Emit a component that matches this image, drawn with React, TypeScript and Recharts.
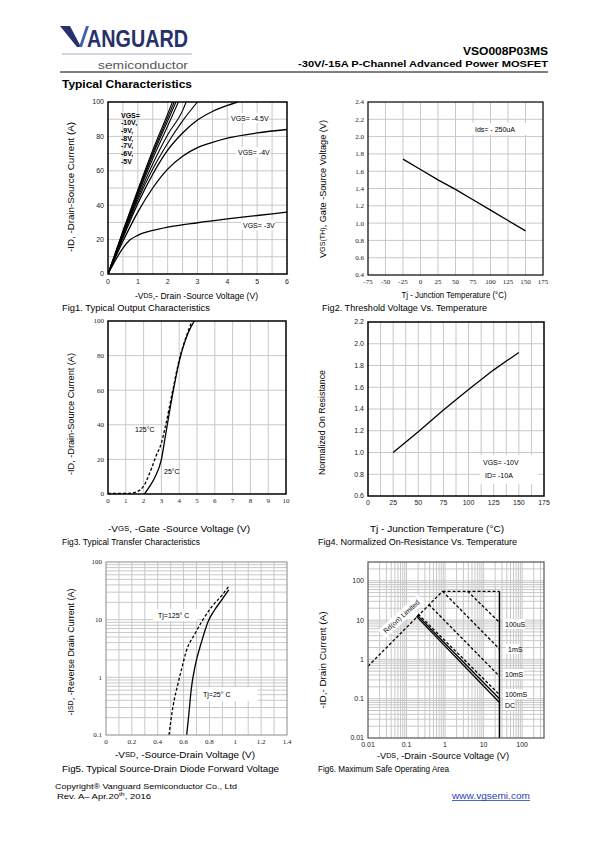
import React from 'react';
import { LineChart, Line, XAxis, YAxis, ReferenceLine } from 'recharts';

const SANS = "'Liberation Sans', Arial, sans-serif";
const SERIF = "'Liberation Serif', 'Times New Roman', serif";

type Pt = { x: number; y: number };

// Fig1 - output characteristics, -ID (A) vs -VDS (V)
const vgs10: Pt[] = [{ x: 0, y: 0 }, { x: 0.5, y: 25 }, { x: 1, y: 49 }, { x: 1.5, y: 72 }, { x: 2, y: 93 }, { x: 2.16, y: 100 }];
const vgs9: Pt[] = [{ x: 0, y: 0 }, { x: 0.5, y: 24.5 }, { x: 1, y: 48 }, { x: 1.5, y: 70.5 }, { x: 2, y: 91 }, { x: 2.22, y: 100 }];
const vgs8: Pt[] = [{ x: 0, y: 0 }, { x: 0.5, y: 24 }, { x: 1, y: 47 }, { x: 1.5, y: 69 }, { x: 2, y: 89 }, { x: 2.28, y: 100 }];
const vgs7: Pt[] = [{ x: 0, y: 0 }, { x: 0.5, y: 23.5 }, { x: 1, y: 46 }, { x: 1.5, y: 67 }, { x: 2, y: 86 }, { x: 2.36, y: 100 }];
const vgs6: Pt[] = [{ x: 0, y: 0 }, { x: 0.5, y: 23 }, { x: 1, y: 44.5 }, { x: 1.5, y: 64 }, { x: 2, y: 81 }, { x: 2.5, y: 95 }, { x: 2.62, y: 100 }];
const vgs5: Pt[] = [{ x: 0, y: 0 }, { x: 0.5, y: 22 }, { x: 1, y: 43 }, { x: 1.5, y: 61 }, { x: 2, y: 76 }, { x: 2.5, y: 89 }, { x: 3, y: 100 }];
const vgs45: Pt[] = [{ x: 0, y: 0 }, { x: 0.5, y: 21 }, { x: 1, y: 41 }, { x: 1.5, y: 58 }, { x: 2, y: 72 }, { x: 2.5, y: 82 }, { x: 3, y: 89.5 }, { x: 3.5, y: 94.5 }, { x: 4, y: 98 }, { x: 4.35, y: 100 }];
const vgs4: Pt[] = [{ x: 0, y: 0 }, { x: 0.5, y: 19 }, { x: 1, y: 36 }, { x: 1.5, y: 50 }, { x: 2, y: 61 }, { x: 2.5, y: 68.5 }, { x: 3, y: 73.5 }, { x: 3.5, y: 76.5 }, { x: 4, y: 79 }, { x: 5, y: 82 }, { x: 6, y: 84 }];
const vgs3: Pt[] = [{ x: 0, y: 0 }, { x: 0.25, y: 8 }, { x: 0.5, y: 15 }, { x: 0.75, y: 20 }, { x: 1, y: 22.5 }, { x: 1.5, y: 25.3 }, { x: 2, y: 27.2 }, { x: 3, y: 29.8 }, { x: 4, y: 32 }, { x: 5, y: 34 }, { x: 6, y: 36 }];
const fig1XTicks = [0, 1, 2, 3, 4, 5, 6];
const fig1YTicks = [0, 20, 40, 60, 80, 100];

// Fig2 - threshold voltage vs Tj
const vth: Pt[] = [{ x: -25, y: 1.74 }, { x: 0, y: 1.62 }, { x: 25, y: 1.5 }, { x: 50, y: 1.39 }, { x: 75, y: 1.27 }, { x: 100, y: 1.15 }, { x: 125, y: 1.03 }, { x: 150, y: 0.91 }];
const fig2XTicks = [-75, -50, -25, 0, 25, 50, 75, 100, 125, 150, 175];
const fig2YTicks = [0.4, 0.6, 0.8, 1.0, 1.2, 1.4, 1.6, 1.8, 2.0, 2.2, 2.4];

// Fig3 - transfer characteristics
const transfer125: Pt[] = [{ x: 0, y: 0.3 }, { x: 1.2, y: 0.4 }, { x: 1.6, y: 1.2 }, { x: 2, y: 4.5 }, { x: 2.45, y: 15 }, { x: 2.7, y: 22 }, { x: 3, y: 29.5 }, { x: 3.2, y: 38 }, { x: 3.6, y: 58 }, { x: 4, y: 77.5 }, { x: 4.5, y: 94 }, { x: 4.72, y: 100 }];
const transfer25: Pt[] = [{ x: 2.05, y: 0 }, { x: 2.35, y: 4.5 }, { x: 2.65, y: 10 }, { x: 3, y: 20 }, { x: 3.2, y: 32 }, { x: 3.6, y: 56 }, { x: 4, y: 76.5 }, { x: 4.5, y: 93 }, { x: 4.85, y: 100 }];
const fig3XTicks = [0, 1, 2, 3, 4, 5, 6, 7, 8, 9, 10];
const fig3YTicks = [0, 20, 40, 60, 80, 100];

// Fig4 - normalized RDS(on) vs Tj
const rdsNorm: Pt[] = [{ x: 25, y: 1.0 }, { x: 50, y: 1.19 }, { x: 75, y: 1.39 }, { x: 100, y: 1.58 }, { x: 125, y: 1.76 }, { x: 150, y: 1.92 }];
const fig4XTicks = [0, 25, 50, 75, 100, 125, 150, 175];
const fig4YTicks = [0.6, 0.8, 1.0, 1.2, 1.4, 1.6, 1.8, 2.0, 2.2];

// Fig5 - body diode forward voltage
const diode125: Pt[] = [{ x: 0.487, y: 0.1 }, { x: 0.52, y: 0.33 }, { x: 0.555, y: 0.75 }, { x: 0.585, y: 1.4 }, { x: 0.62, y: 2.8 }, { x: 0.69, y: 5.8 }, { x: 0.75, y: 10 }, { x: 0.82, y: 17 }, { x: 0.9, y: 27 }, { x: 0.95, y: 38 }];
const diode25: Pt[] = [{ x: 0.624, y: 0.1 }, { x: 0.64, y: 0.22 }, { x: 0.66, y: 0.64 }, { x: 0.69, y: 1.6 }, { x: 0.74, y: 4.2 }, { x: 0.79, y: 9.3 }, { x: 0.84, y: 14.7 }, { x: 0.895, y: 22 }, { x: 0.95, y: 33 }];
const fig5XTicks = [0, 0.2, 0.4, 0.6, 0.8, 1, 1.2, 1.4];
const fig5YTicks = [0.1, 1, 10, 100];

// Fig6 - safe operating area
const soaRds: Pt[] = [{ x: 0.01, y: 0.67 }, { x: 0.86, y: 54 }];
const soaTop: Pt[] = [{ x: 0.86, y: 54 }, { x: 25.8, y: 54 }];
const soaVmax: Pt[] = [{ x: 25.8, y: 54 }, { x: 25.8, y: 0.01 }];
const soa100us: Pt[] = [{ x: 3.86, y: 54 }, { x: 25.8, y: 8.7 }];
const soa1ms: Pt[] = [{ x: 0.86, y: 54 }, { x: 25.8, y: 1.84 }];
const soa10ms: Pt[] = [{ x: 0.38, y: 24.7 }, { x: 25.8, y: 0.373 }];
const soa100ms: Pt[] = [{ x: 0.2, y: 14.2 }, { x: 25.8, y: 0.127 }];
const soa1s: Pt[] = [{ x: 0.19, y: 13.3 }, { x: 25.8, y: 0.1 }];
const soaDC: Pt[] = [{ x: 0.18, y: 12.4 }, { x: 25.8, y: 0.08 }];
const fig6Ticks = [0.01, 0.1, 1, 10, 100];

function range(a: number, b: number, step: number) {
  const out: number[] = [];
  for (let v = a; v <= b + 1e-9; v += step) out.push(+v.toFixed(4));
  return out;
}

function logGrid(lo: number, hi: number) {
  const out: number[] = [];
  for (let d = lo; d < hi; d *= 10) {
    for (let k = 1; k <= 9; k++) {
      const v = +(d * k).toPrecision(3);
      if (v > lo * 1.001 && v < hi * 0.999) out.push(v);
    }
  }
  return out;
}

type Series = { data: Pt[]; dash?: string; width?: number; curve?: 'monotone' | 'linear' };

interface PlotProps {
  box: [number, number, number, number];
  xDomain: [number, number];
  yDomain: [number, number];
  xTicks: number[];
  yTicks: number[];
  xGrid: number[];
  yGrid: number[];
  xLog?: boolean;
  yLog?: boolean;
  yFmt?: (v: number) => string;
  tickFont?: string;
  xGap?: number;
  series: Series[];
}

const Plot = (p: PlotProps) => {
  const [x0, y0, x1, y1] = p.box;
  const L = 34, T = 6, R = 10, B = 18;
  const w = x1 - x0 + L + R;
  const h = y1 - y0 + T + B;
  const tick = { fontSize: 7, fill: '#222', fontFamily: p.tickFont ?? SANS };
  return (
    <div style={{ position: 'absolute', left: x0 - L, top: y0 - T, width: w, height: h }}>
      <LineChart width={w} height={h} margin={{ top: T, right: R, left: 0, bottom: 0 }}>
        <XAxis type="number" dataKey="x" domain={p.xDomain} ticks={p.xTicks} scale={p.xLog ? 'log' : 'linear'} allowDataOverflow
          height={B} axisLine={false} tickLine={false} tickSize={p.xGap ?? 3} tickMargin={1} tick={tick} interval={0} />
        <YAxis type="number" domain={p.yDomain} ticks={p.yTicks} scale={p.yLog ? 'log' : 'linear'} allowDataOverflow
          width={L} axisLine={false} tickLine={false} tickSize={2} tickMargin={2} tick={tick} interval={0}
          tickFormatter={p.yFmt} />
        {p.xGrid.map((v) => <ReferenceLine key={'gx' + v} x={v} stroke="#c8c8c8" strokeWidth={1} />)}
        {p.yGrid.map((v) => <ReferenceLine key={'gy' + v} y={v} stroke="#c8c8c8" strokeWidth={1} />)}
        {p.series.map((s, i) => (
          <Line key={i} data={s.data} dataKey="y" type={s.curve ?? 'monotone'} stroke="#000"
            strokeWidth={s.width ?? 1.3} strokeDasharray={s.dash} dot={false} isAnimationActive={false} />
        ))}
      </LineChart>
    </div>
  );
};

const Box = ({ x, y, w, h }: { x: number; y: number; w: number; h: number }) => (
  <rect x={x} y={y} width={w} height={h} fill="#fff" />
);

const Txt = (props: { x: number; y: number; s?: number; bold?: boolean; anchor?: 'start' | 'middle' | 'end'; len?: number; fill?: string; family?: string; rot?: number; children: React.ReactNode }) => {
  const { x, y, s = 7, bold, anchor = 'start', len, fill = '#000', family = SANS, rot, children } = props;
  return (
    <text x={x} y={y} fontSize={s} fontWeight={bold ? 'bold' : 'normal'} textAnchor={anchor} dominantBaseline="central"
      fill={fill} fontFamily={family} textLength={len} lengthAdjust={len ? 'spacingAndGlyphs' : undefined}
      transform={rot ? `rotate(${rot} ${x} ${y})` : undefined}>
      {children}
    </text>
  );
};

const sub = (t: string) => <tspan fontSize="0.78em">{t}</tspan>;

const fix1 = (v: number) => v.toFixed(1);

export default function App() {
  return (
    <div style={{ position: 'absolute', left: 0, top: 0, width: 595, height: 842, background: '#fff' }}>
      <Plot box={[108, 102, 287, 274]} xDomain={[0, 6]} yDomain={[0, 100]} xTicks={fig1XTicks} yTicks={fig1YTicks}
        xGrid={range(0.5, 5.5, 0.5)} yGrid={range(10, 90, 10)} xGap={4}
        series={[
          { data: vgs10, width: 1.1 }, { data: vgs9, width: 1.1 }, { data: vgs8, width: 1.1 },
          { data: vgs7, width: 1.1 }, { data: vgs6, width: 1.1 }, { data: vgs5, width: 1.1 },
          { data: vgs45 }, { data: vgs4 }, { data: vgs3 },
        ]} />
      <Plot box={[368, 102, 543, 275]} xDomain={[-75, 175]} yDomain={[0.4, 2.4]} xTicks={fig2XTicks} yTicks={fig2YTicks}
        xGrid={range(-50, 150, 25)} yGrid={range(0.6, 2.2, 0.2)} tickFont={SERIF} yFmt={fix1}
        series={[{ data: vth, curve: 'linear' }]} />
      <Plot box={[108, 321, 286, 494]} xDomain={[0, 10]} yDomain={[0, 100]} xTicks={fig3XTicks} yTicks={fig3YTicks}
        xGrid={range(1, 9, 1)} yGrid={range(20, 80, 20)} tickFont={SERIF}
        series={[{ data: transfer125, dash: '3 2' }, { data: transfer25 }]} />
      <Plot box={[368, 322, 544, 496]} xDomain={[0, 175]} yDomain={[0.6, 2.2]} xTicks={fig4XTicks} yTicks={fig4YTicks}
        xGrid={range(12.5, 162.5, 12.5)} yGrid={range(0.8, 2.0, 0.2)} yFmt={fix1}
        series={[{ data: rdsNorm, curve: 'linear' }]} />
      <Plot box={[106, 562, 287, 735]} xDomain={[0, 1.4]} yDomain={[0.1, 100]} xTicks={fig5XTicks} yTicks={fig5YTicks}
        xGrid={range(0.1, 1.3, 0.1)} yGrid={logGrid(0.1, 100)} tickFont={SERIF} yLog
        series={[{ data: diode125, dash: '3 2' }, { data: diode25 }]} />
      <Plot box={[368, 562, 544, 738]} xDomain={[0.01, 370]} yDomain={[0.01, 300]} xTicks={fig6Ticks} yTicks={fig6Ticks}
        xGrid={logGrid(0.01, 370)} yGrid={logGrid(0.01, 300)} xLog yLog
        series={[
          { data: soaRds, dash: '3 2', curve: 'linear' }, { data: soaTop, dash: '3 2', curve: 'linear' },
          { data: soaVmax, curve: 'linear', width: 1.5 }, { data: soa100us, dash: '3 2', curve: 'linear' },
          { data: soa1ms, dash: '3 2', curve: 'linear' }, { data: soa10ms, dash: '3 2', curve: 'linear' },
          { data: soa100ms, dash: '3 2', curve: 'linear' }, { data: soa1s, curve: 'linear' },
          { data: soaDC, curve: 'linear' },
        ]} />

      <svg width={595} height={842} style={{ position: 'absolute', left: 0, top: 0, pointerEvents: 'none' }}>
        {/* header */}
        <polygon points="60,26 70,26 81,47 77,47" fill="#26306c" />
        <polygon points="79,47 86,26 89,26 82,47" fill="#3f63ad" />
        <text x={87} y={47} fontSize={24} fontWeight="bold" fill="#26306c" fontFamily={SANS} textLength={101} lengthAdjust="spacingAndGlyphs">ANGUARD</text>
        <line x1={62} y1={54} x2={192} y2={54} stroke="#8a93b8" strokeWidth={0.8} />
        <text x={98} y={69} fontSize={11} fill="#555" fontFamily={SANS} textLength={90} lengthAdjust="spacingAndGlyphs">semiconductor</text>
        <Txt x={548} y={51} s={11.5} bold anchor="end" len={85}>VSO008P03MS</Txt>
        <Txt x={548} y={63.5} s={9} bold anchor="end" len={250}>-30V/-15A  P-Channel  Advanced  Power  MOSFET</Txt>
        <line x1={60} y1={72} x2={548} y2={72} stroke="#000" strokeWidth={1} />
        <Txt x={62} y={84} s={11} bold len={130}>Typical Characteristics</Txt>

        {/* plot frames */}
        <rect x={108} y={102} width={179} height={172} fill="none" stroke="#000" strokeWidth={1.5} />
        <rect x={368} y={102} width={175} height={173} fill="none" stroke="#000" strokeWidth={1.2} />
        <rect x={108} y={321} width={178} height={173} fill="none" stroke="#000" strokeWidth={1.5} />
        <rect x={368} y={322} width={176} height={174} fill="none" stroke="#000" strokeWidth={1.5} />
        <rect x={106} y={562} width={181} height={173} fill="none" stroke="#8a8a8a" strokeWidth={1} />
        <rect x={368} y={562} width={176} height={176} fill="none" stroke="#555" strokeWidth={1.2} />

        {/* Fig1 */}
        <text fontSize={7} fontWeight="bold" fontFamily={SANS}>
          {['VGS=', '-10V,', '-9V,', '-8V,', '-7V,', '-6V,', '-5V'].map((t, i) => (
            <tspan key={t} x={121} y={117.5 + i * 7.7}>{t}</tspan>
          ))}
        </text>
        <Box x={229} y={113} w={40} h={10} />
        <Txt x={231} y={118}>VGS= -4.5V</Txt>
        <Box x={236} y={147} w={34} h={10} />
        <Txt x={238} y={152}>VGS= -4V</Txt>
        <Box x={241} y={220} w={34} h={10} />
        <Txt x={243} y={225}>VGS= -3V</Txt>
        <Txt x={196.5} y={295} s={9.5} anchor="middle" len={123}>-V{sub('DS')},- Drain -Source Voltage (V)</Txt>
        <Txt x={70} y={187} s={9.5} anchor="middle" len={130} rot={-90}>-ID, -Drain-Source Current (A)</Txt>
        <Txt x={62} y={308} s={8.5} len={148}>Fig1. Typical Output Characteristics</Txt>

        {/* Fig2 */}
        <Box x={468} y={123} w={67} h={12} />
        <Txt x={475} y={129}>Ids= - 250uA</Txt>
        <Txt x={454} y={294} s={9.5} anchor="middle" len={105}>Tj - Junction Temperature (°C)</Txt>
        <Txt x={322} y={189} s={9.5} anchor="middle" len={138} rot={-90}>V{sub('GS(TH)')}, Gate -Source Voltage (V)</Txt>
        <Txt x={322} y={308} s={8.5} len={165}>Fig2. Threshold Voltage Vs. Temperature</Txt>

        {/* Fig3 */}
        <Txt x={135} y={429}>125°C</Txt>
        <Txt x={164} y={471.5}>25°C</Txt>
        <Txt x={179} y={528} s={9.5} anchor="middle" len={142}>-V{sub('GS')}, -Gate -Source Voltage (V)</Txt>
        <Txt x={70} y={414} s={9.5} anchor="middle" len={122} rot={-90}>-ID, -Drain-Source Current (A)</Txt>
        <Txt x={62} y={542} s={8.5} len={138}>Fig3. Typical Transfer Characteristics</Txt>

        {/* Fig4 */}
        <Box x={480} y={455} w={58} h={29} />
        <Txt x={483} y={462.5}>VGS= -10V</Txt>
        <Txt x={485} y={475}>ID= -10A</Txt>
        <Txt x={437} y={528} s={9.5} anchor="middle" len={134}>Tj - Junction Temperature (°C)</Txt>
        <Txt x={321} y={422.5} s={9.5} anchor="middle" len={105} rot={-90}>Normalized On Resistance</Txt>
        <Txt x={318} y={542} s={8.5} len={199}>Fig4. Normalized On-Resistance Vs. Temperature</Txt>

        {/* Fig5 */}
        <Box x={153} y={609} w={44} h={12} />
        <Txt x={158} y={615}>Tj=125° C</Txt>
        <Box x={198} y={687} w={60} h={14} />
        <Txt x={203} y={694}>Tj=25° C</Txt>
        <Txt x={185} y={754} s={9.5} anchor="middle" len={140}>-V{sub('SD')}, -Source-Drain Voltage (V)</Txt>
        <Txt x={70} y={652} s={9.5} anchor="middle" len={127} rot={-90}>-I{sub('SD')}, -Reverse Drain Current (A)</Txt>
        <Txt x={62} y={768.5} s={8.5} len={217}>Fig5. Typical Source-Drain Diode Forward Voltage</Txt>

        {/* Fig6 */}
        <g transform="rotate(-42 401.5 616.5)">
          <rect x={375} y={611} width={53} height={11} fill="#fff" />
        </g>
        <Txt x={401.5} y={616.5} s={7} anchor="middle" rot={-42}>Rd(on) Limited</Txt>
        <Box x={503} y={619} w={22} h={10} />
        <Txt x={505} y={624}>100uS</Txt>
        <Box x={506} y={644} w={14} h={10} />
        <Txt x={508} y={649}>1mS</Txt>
        <Box x={503} y={669} w={21} h={10} />
        <Txt x={505} y={674}>10mS</Txt>
        <Box x={503} y={689} w={24} h={10} />
        <Txt x={505} y={694.5}>100mS</Txt>
        <Box x={503} y={700} w={12} h={10} />
        <Txt x={505} y={705}>DC</Txt>
        <Txt x={443} y={755} s={9.5} anchor="middle" len={132}>-V{sub('DS')}, -Drain -Source Voltage (V)</Txt>
        <Txt x={322} y={660} s={9.5} anchor="middle" len={97} rot={-90}>-ID,- Drain Current (A)</Txt>
        <Txt x={318} y={768.5} s={8.5} len={131}>Fig6. Maximum Safe Operating Area</Txt>

        {/* footer */}
        <Txt x={55} y={786} s={7} len={182}>Copyright® Vanguard Semiconductor Co., Ltd</Txt>
        <text x={57} y={799} fontSize={7} fontFamily={SANS} textLength={94} lengthAdjust="spacingAndGlyphs">
          Rev. A– Apr.20<tspan fontSize={5} dy={-3}>th</tspan><tspan dy={3}>, 2016</tspan>
        </text>
        <Txt x={452} y={796} s={9} fill="#1f3fbf" len={78}>www.vgsemi.com</Txt>
        <line x1={452} y1={800.5} x2={530} y2={800.5} stroke="#1f3fbf" strokeWidth={0.8} />
      </svg>
    </div>
  );
}
